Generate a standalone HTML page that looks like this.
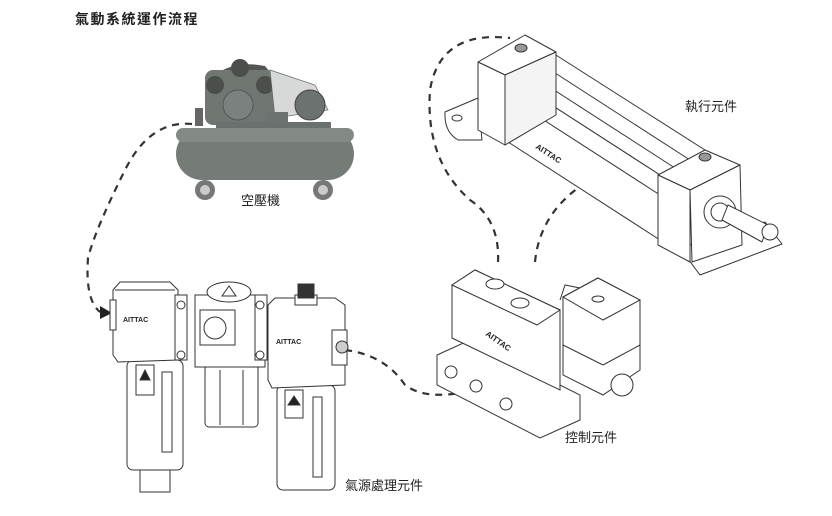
<!DOCTYPE html>
<html><head><meta charset="utf-8"><style>
html,body{margin:0;padding:0;background:#fff;width:832px;height:516px;overflow:hidden}
svg{display:block}
text{font-family:"Liberation Sans","Noto Sans CJK TC",sans-serif;fill:#222}
</style></head><body>
<svg width="832" height="516" viewBox="0 0 832 516" xmlns="http://www.w3.org/2000/svg">
<text x="75" y="24" font-size="14" font-weight="bold" letter-spacing="1.5">氣動系統運作流程</text>

<!-- compressor -->
<g>
 <path d="M215 75 Q235 60 265 66 L270 72 Q250 66 222 80Z" fill="#555"/>
 <rect x="205" y="70" width="70" height="55" rx="8" fill="#707773"/>
 <circle cx="240" cy="68" r="9" fill="#4a4f4c"/>
 <circle cx="215" cy="85" r="9" fill="#4a4f4c"/>
 <circle cx="265" cy="85" r="9" fill="#4a4f4c"/>
 <circle cx="238" cy="105" r="15" fill="#7b817e" stroke="#555"/>
 <path d="M270 70 L315 85 L328 110 L275 118Z" fill="#d6d9d8" stroke="#666" stroke-width="0.7"/>
 <circle cx="310" cy="105" r="15" fill="#6c726f" stroke="#444"/>
 <rect x="266" y="112" width="22" height="13" fill="#6c726f"/>
 <rect x="195" y="108" width="8" height="18" fill="#666"/>
 <rect x="216" y="122" width="115" height="12" fill="#6a706d"/>
 <rect x="176" y="128" width="178" height="52" rx="26" fill="#757c78"/>
 <rect x="176" y="128" width="178" height="14" rx="7" fill="#838a86"/>
 <circle cx="205" cy="190" r="10" fill="#777"/><circle cx="205" cy="190" r="5" fill="#ccc"/>
 <circle cx="323" cy="190" r="10" fill="#777"/><circle cx="323" cy="190" r="5" fill="#ccc"/>
</g>
<text x="241" y="205" font-size="13">空壓機</text>

<!-- dashed connectors -->
<g fill="none" stroke="#333" stroke-width="2.2" stroke-dasharray="7,6">
 <path d="M192 124 Q150 120 125 170 Q95 230 88 258 Q85 300 100 312"/>
 <path d="M345 350 Q385 355 405 385 Q425 400 465 392"/>
 <path d="M498 262 Q500 220 470 200 Q425 160 430 90 Q440 30 510 38"/>
 <path d="M535 262 Q540 210 590 180 Q650 140 660 138"/>
</g>
<path d="M100 306 L112 313 L100 319Z" fill="#222"/>
<path d="M465 386 L477 392 L465 398Z" fill="#222"/>

<!-- FRL -->
<g stroke="#333" stroke-width="1" fill="#fff">
 <rect x="127" y="360" width="56" height="110" rx="6"/>
 <rect x="162" y="372" width="10" height="80"/>
 <rect x="136" y="365" width="18" height="30"/>
 <path d="M140 380 L145 370 L150 380Z" fill="#222"/>
 <rect x="140" y="470" width="30" height="22"/>
 <path d="M113 290 L120 282 L170 282 L178 290 L178 360 L118 362 L113 355Z"/>
 <line x1="115" y1="290" x2="175" y2="290"/>
 <rect x="110" y="300" width="6" height="30"/>
 <rect x="205" y="365" width="53" height="62" rx="4"/>
 <line x1="220" y1="370" x2="220" y2="425"/><line x1="243" y1="370" x2="243" y2="425"/>
 <rect x="175" y="295" width="12" height="65"/>
 <circle cx="181" cy="305" r="4"/><circle cx="181" cy="355" r="4"/>
 <rect x="195" y="295" width="70" height="72"/>
 <ellipse cx="229" cy="292" rx="22" ry="10"/>
 <path d="M222 296 L229 286 L236 296Z"/>
 <rect x="200" y="310" width="35" height="35"/>
 <circle cx="215" cy="328" r="11"/>
 <rect x="255" y="295" width="12" height="65"/>
 <circle cx="260" cy="305" r="4"/><circle cx="260" cy="355" r="4"/>
 <rect x="277" y="385" width="58" height="105" rx="6"/>
 <rect x="313" y="397" width="9" height="80"/>
 <rect x="285" y="390" width="18" height="28"/>
 <path d="M288 405 L294 396 L300 405Z" fill="#222"/>
 <path d="M268 305 L275 298 L335 298 L345 305 L345 385 L272 388 L268 380Z"/>
 <rect x="332" y="330" width="15" height="35"/>
 <circle cx="342" cy="347" r="6" fill="#ccc"/>
 <rect x="295" y="295" width="22" height="10"/>
 <rect x="298" y="284" width="16" height="14" fill="#333"/>
</g>
<g font-size="7" font-weight="bold"><text x="123" y="322">AITTAC</text><text x="276" y="344">AITTAC</text></g>
<text x="345" y="490" font-size="13">氣源處理元件</text>

<!-- valve -->
<g stroke="#333" stroke-width="1" fill="#fff">
 <path d="M437 355 L470 340 L580 395 L580 420 L540 438 L437 385Z"/>
 <circle cx="451" cy="372" r="6"/><circle cx="476" cy="386" r="6"/><circle cx="506" cy="404" r="6"/>
 <path d="M452 285 L475 270 L560 310 L560 390 L452 338Z"/>
 <path d="M452 285 L475 270 L560 310 L537 325Z"/>
 <ellipse cx="495" cy="284" rx="9" ry="5"/><ellipse cx="520" cy="303" rx="9" ry="5"/>
 <path d="M560 300 L565 285 L590 290 L600 300"/>
 <path d="M563 297 L598 278 L640 300 L640 370 L603 395 L563 375Z"/>
 <path d="M563 297 L598 278 L640 300 L603 320Z"/>
 <line x1="563" y1="345" x2="603" y2="365"/><line x1="603" y1="365" x2="640" y2="345"/>
 <circle cx="622" cy="385" r="11"/>
 <ellipse cx="598" cy="299" rx="6" ry="3"/>
</g>
<text x="485" y="335" font-size="8" font-weight="bold" transform="rotate(35 485 335)">AITTAC</text>
<text x="565" y="442" font-size="13">控制元件</text>

<!-- cylinder -->
<g stroke="#333" stroke-width="1" fill="#fff" stroke-linejoin="round">
 <path d="M445 112 L478 98 L482 140 L458 140 Q444 132 445 112Z"/>
 <ellipse cx="457" cy="118" rx="5" ry="3"/>
 <path d="M505 75 L548 50 L705 150 L660 175Z"/>
 <path d="M505 75 L660 175 L660 240 L505 140Z"/>
 <line x1="505" y1="95" x2="660" y2="195"/>
 <line x1="520" y1="68" x2="675" y2="168"/>
 <line x1="535" y1="60" x2="690" y2="160"/>
 <path d="M680 248 L765 222 L782 244 L700 275Z"/>
 <path d="M478 62 L525 35 L556 52 L505 75Z"/>
 <path d="M478 62 L505 75 L505 145 L478 130Z"/>
 <path d="M505 75 L556 52 L556 115 L505 145Z" fill="#f4f4f4"/>
 <ellipse cx="521" cy="48" rx="6" ry="4" fill="#999"/>
 <path d="M658 175 L705 150 L740 165 L690 190Z"/>
 <path d="M658 175 L690 190 L690 262 L658 245Z"/>
 <path d="M690 190 L740 165 L742 245 L692 262Z"/>
 <ellipse cx="705" cy="157" rx="6" ry="4" fill="#999"/>
 <circle cx="720" cy="212" r="16"/>
 <circle cx="720" cy="212" r="9"/>
 <path d="M728 205 L768 225 L762 242 L722 220Z"/>
 <circle cx="770" cy="232" r="8"/>
</g>
<text x="535" y="148" font-size="8" font-weight="bold" transform="rotate(33 535 148)">AITTAC</text>
<text x="685" y="111" font-size="13">執行元件</text>
</svg>
</body></html>
